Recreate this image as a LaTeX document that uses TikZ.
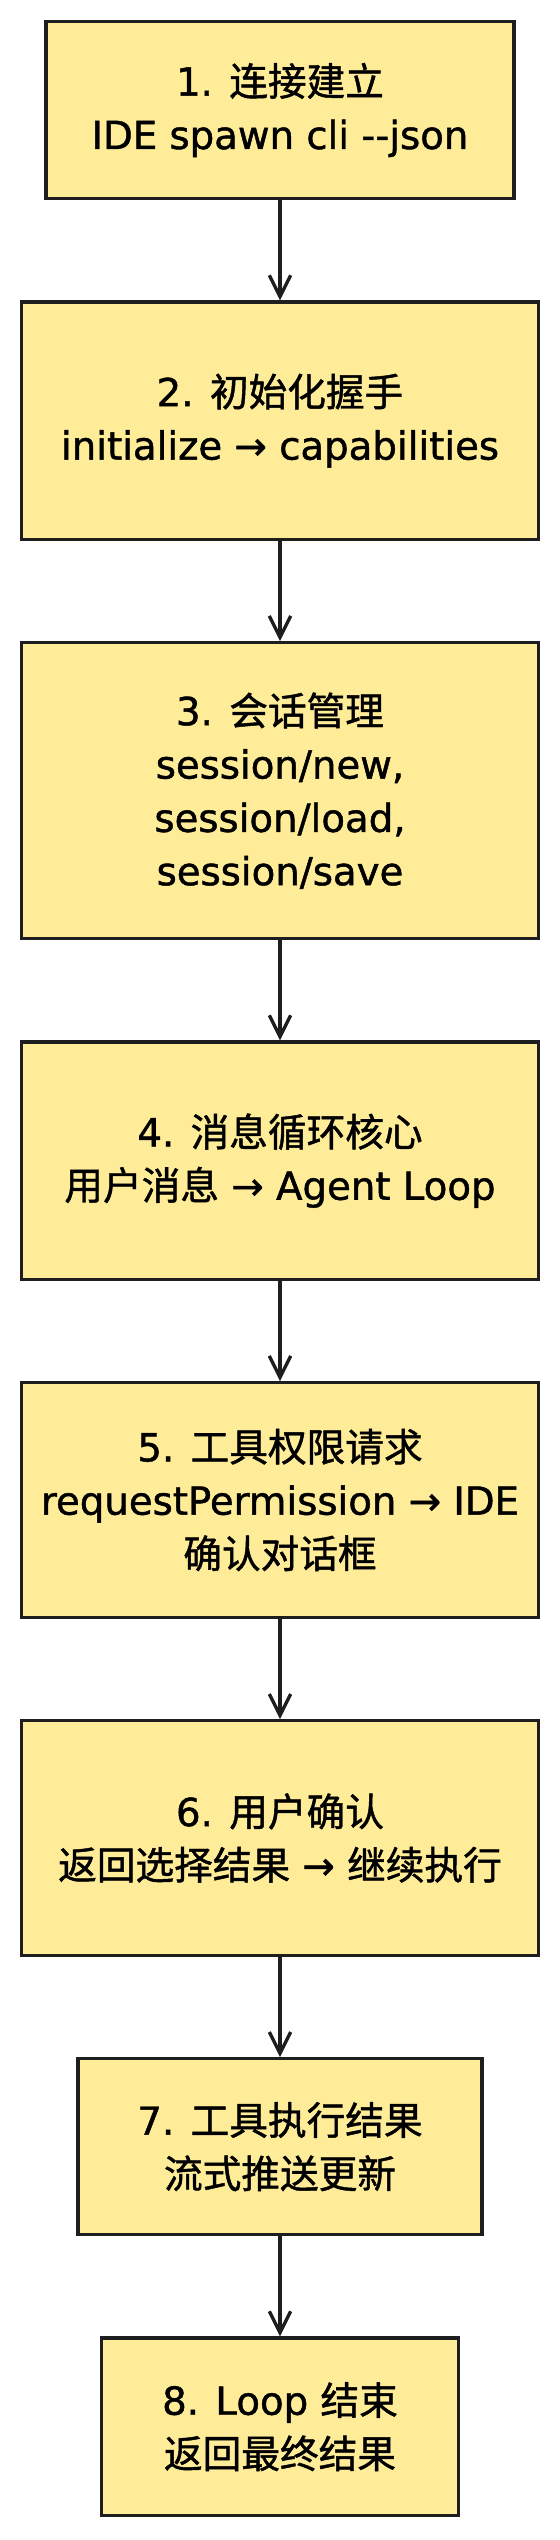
\documentclass[tikz,border=0pt]{standalone}
\usepackage{fontspec}
\setmainfont{DejaVu Sans}[FakeBold=1.2]
\newfontfamily\cjk{Noto Sans CJK SC}[FakeBold=1.2]
\usetikzlibrary{arrows.meta, positioning}
\definecolor{stickyyellow}{RGB}{255, 236, 153}
\definecolor{inkblack}{RGB}{30, 30, 30}

\begin{document}
\begin{tikzpicture}[
    node distance=75pt,
    stepbox/.style={rectangle, draw=inkblack, fill=stickyyellow, line width=2.5pt, align=center, minimum width=388pt, minimum height=178pt, font=\fontsize{29pt}{40pt}\selectfont},
    arrow/.style={line width=2.5pt, inkblack, -{Straight Barb[length=16pt, width=16pt]}}
]

\path[use as bounding box, fill=white] (-210pt,82.5pt) rectangle (210pt,-1822.5pt);

\node (s1) [stepbox, minimum width=351pt, minimum height=133pt] at (0,0) {1. {\cjk 连接建立}\\IDE spawn cli -{}-json};

\node (s2) [stepbox, below=of s1] {2. {\cjk 初始化握手}\\initialize → capabilities};

\node (s3) [stepbox, minimum height=222pt, below=of s2] {3. {\cjk 会话管理}\\session/new,\\session/load,\\session/save};

\node (s4) [stepbox, below=of s3] {4. {\cjk 消息循环核心}\\{\cjk 用户消息} → Agent Loop};

\node (s5) [stepbox, minimum height=176pt, below=of s4] {5. {\cjk 工具权限请求}\\requestPermission → IDE\\{\cjk 确认对话框}};

\node (s6) [stepbox, minimum height=176pt, below=of s5] {6. {\cjk 用户确认}\\{\cjk 返回选择结果} → {\cjk 继续执行}};

\node (s7) [stepbox, minimum width=303pt, minimum height=132pt, below=of s6] {7. {\cjk 工具执行结果}\\{\cjk 流式推送更新}};

\node (s8) [stepbox, minimum width=268pt, minimum height=133pt, below=of s7] {8. Loop {\cjk 结束}\\{\cjk 返回最终结果}};

\draw[arrow] (s1) -- (s2);
\draw[arrow] (s2) -- (s3);
\draw[arrow] (s3) -- (s4);
\draw[arrow] (s4) -- (s5);
\draw[arrow] (s5) -- (s6);
\draw[arrow] (s6) -- (s7);
\draw[arrow] (s7) -- (s8);

\end{tikzpicture}
\end{document}
